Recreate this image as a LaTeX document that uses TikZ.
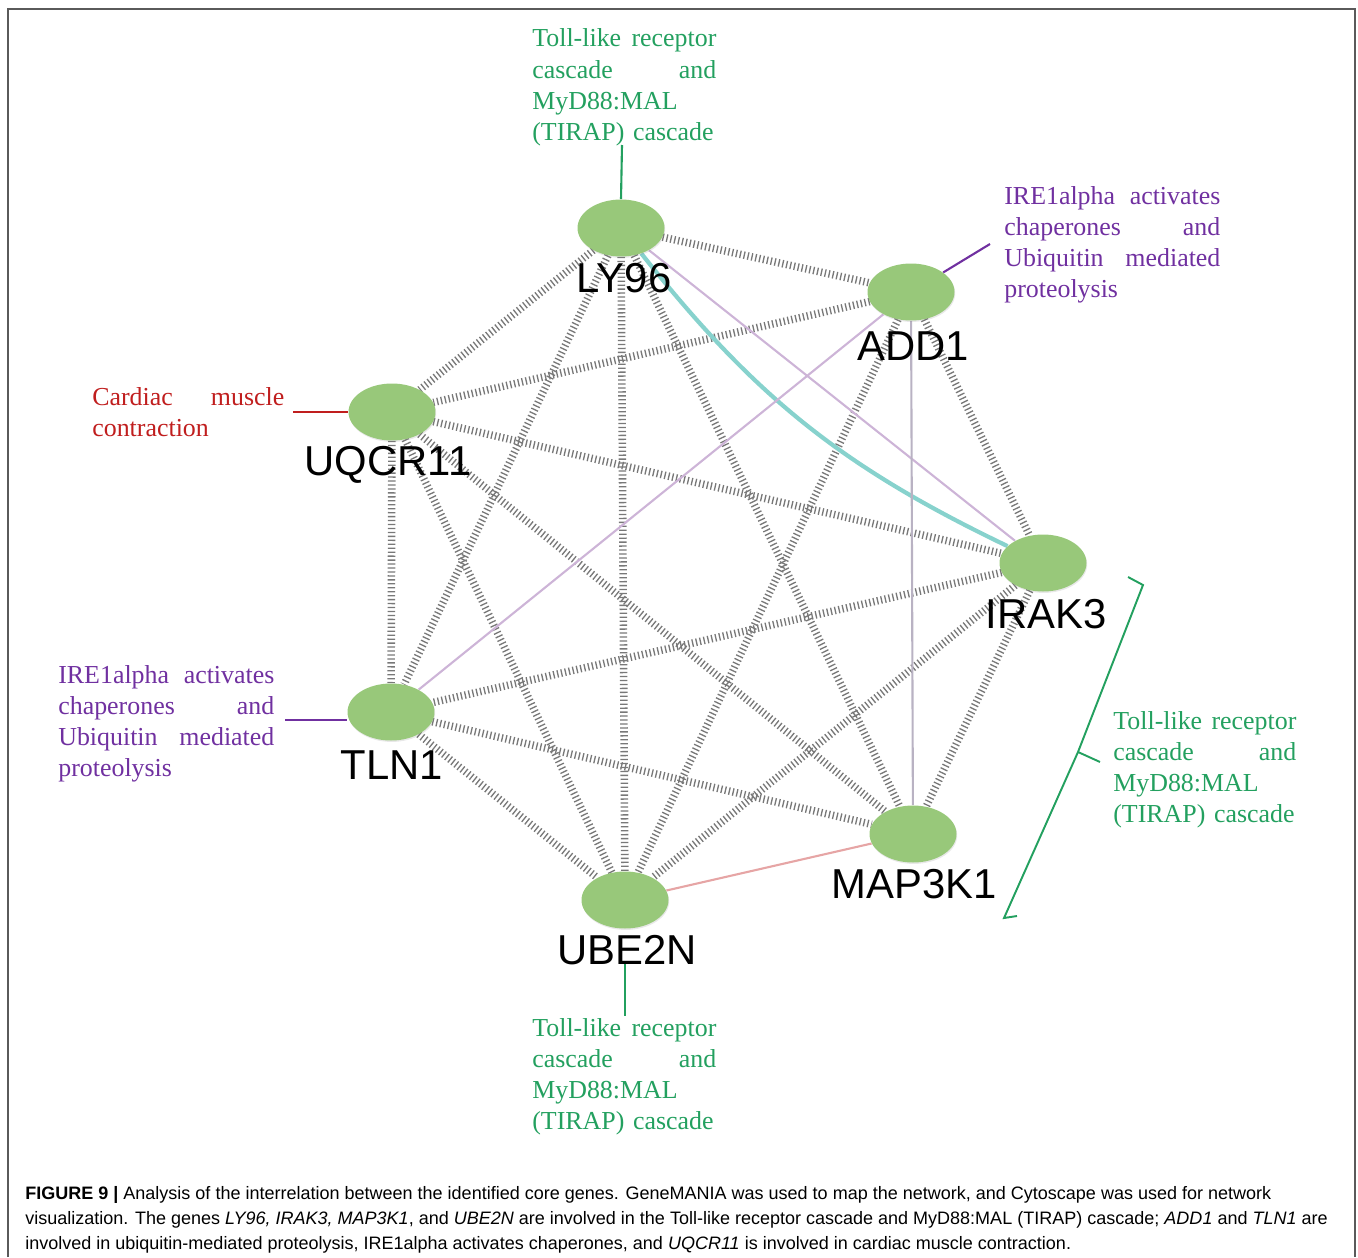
\documentclass[tikz,border=0pt]{standalone}
\usepackage{fontspec}
\setmainfont{Liberation Serif}
\setsansfont{Liberation Sans}
\usetikzlibrary{positioning, shapes.geometric, backgrounds, shadows}
\definecolor{genegreen}{RGB}{152,200,122}
\definecolor{annogreen}{RGB}{35,160,95}
\definecolor{annopurple}{RGB}{112,48,160}
\definecolor{annored}{RGB}{192,30,30}
\definecolor{hatchgray}{RGB}{120,120,120}
\definecolor{tealline}{RGB}{135,210,205}
\definecolor{lilacline}{RGB}{205,180,215}
\definecolor{greyline}{RGB}{185,178,195}
\definecolor{pinkline}{RGB}{230,165,165}
\definecolor{framegray}{RGB}{90,90,90}
\newcommand{\jsp}{\hskip 0pt plus 1filll\relax}

\begin{document}
\begin{tikzpicture}[x=0.02cm, y=-0.02cm,
    gene/.style={ellipse, fill=genegreen, minimum width=1.74cm, minimum height=1.14cm, inner sep=0pt,
      drop shadow={opacity=0.18, shadow xshift=0.4pt, shadow yshift=-0.8pt}},
    genelabel/.style={inner sep=0pt, font=\sffamily\fontsize{23.8}{28}\selectfont},
    anno/.style={anchor=base west, inner sep=0pt, align=left, font=\fontsize{14.74}{17.7}\selectfont},
    capline/.style={anchor=base west, inner sep=0pt, font=\sffamily\fontsize{10.25}{14}\selectfont},
    hatch/.style={hatchgray, line width=4.3pt, dash pattern=on 0.75pt off 1.5pt},
    thinedge/.style={line width=1.2pt}]
  \useasboundingbox (0,0) rectangle (1358,1257);
  \draw[framegray, line width=1.1pt] (8,1257) -- (8,9) -- (1355,9) -- (1355,1257);

  % genes
  \node[gene] (LY96) at (621,228) {};
  \node[gene] (ADD1) at (911,292) {};
  \node[gene] (UQCR11) at (392,412) {};
  \node[gene] (IRAK3) at (1043,563) {};
  \node[gene] (TLN1) at (391,712) {};
  \node[gene] (MAP3K1) at (913,834) {};
  \node[gene] (UBE2N) at (625,900) {};

  \node[genelabel] (LY96t) at (624,278) {LY96};
  \node[genelabel] (ADD1t) at (913,346) {ADD1};
  \node[genelabel] (UQCR11t) at (388,465) {UQCR11};
  \node[genelabel] (IRAK3t) at (1046,614) {IRAK3};
  \node[genelabel] (TLN1t) at (392,765) {TLN1};
  \node[genelabel] (MAP3K1t) at (914,884) {MAP3K1};
  \node[genelabel] (UBE2Nt) at (627,950) {UBE2N};

  % interactions
  \begin{scope}[on background layer]
    \draw[hatch] (LY96) -- (ADD1);
    \draw[hatch] (LY96) -- (UQCR11);
    \draw[hatch] (LY96) -- (TLN1);
    \draw[hatch] (LY96) -- (UBE2N);
    \draw[hatch] (LY96) -- (MAP3K1);
    \draw[hatch] (ADD1) -- (UQCR11);
    \draw[hatch] (ADD1) -- (UBE2N);
    \draw[hatch] (ADD1) -- (IRAK3);
    \draw[hatch] (UQCR11) -- (IRAK3);
    \draw[hatch] (UQCR11) -- (TLN1);
    \draw[hatch] (UQCR11) -- (UBE2N);
    \draw[hatch] (UQCR11) -- (MAP3K1);
    \draw[hatch] (IRAK3) -- (TLN1);
    \draw[hatch] (IRAK3) -- (UBE2N);
    \draw[hatch] (IRAK3) -- (MAP3K1);
    \draw[hatch] (TLN1) -- (UBE2N);
    \draw[hatch] (TLN1) -- (MAP3K1);
    \draw[thinedge, lilacline] (LY96) -- (IRAK3);
    \draw[tealline, line width=2.4pt] (LY96) to[bend right=13] (IRAK3);
    \draw[thinedge, lilacline] (ADD1) -- (TLN1);
    \draw[thinedge, greyline] (ADD1) -- (MAP3K1);
    \draw[thinedge, pinkline] (UBE2N) -- (MAP3K1);
  \end{scope}

  % pathway notes
  \node[anno, annogreen, text width=184*0.02cm] (annTop) at (532,47)
    {Toll-like\jsp receptor\\ cascade\jsp and\\ MyD88:MAL\\ (TIRAP) cascade};
  \node[anno, annopurple, text width=216*0.02cm] (annAdd) at (1004,204)
    {IRE1alpha\jsp activates\\ chaperones\jsp and\\ Ubiquitin\jsp mediated\\ proteolysis};
  \node[anno, annored, text width=192*0.02cm] (annUqc) at (92,405)
    {Cardiac\jsp muscle\\ contraction};
  \node[anno, annopurple, text width=216*0.02cm] (annTln) at (58,683)
    {IRE1alpha\jsp activates\\ chaperones\jsp and\\ Ubiquitin\jsp mediated\\ proteolysis};
  \node[anno, annogreen, text width=183*0.02cm] (annRight) at (1113,729)
    {Toll-like\jsp receptor\\ cascade\jsp and\\ MyD88:MAL\\ (TIRAP) cascade};
  \node[anno, annogreen, text width=184*0.02cm] (annBot) at (532,1036)
    {Toll-like\jsp receptor\\ cascade\jsp and\\ MyD88:MAL\\ (TIRAP) cascade};

  \coordinate (pTop) at (622,145);
  \coordinate (pAdd) at (990,244);
  \coordinate (pUqc) at (293,412);
  \coordinate (pTln) at (285,720);
  \coordinate (pBotA) at (625,964);
  \coordinate (pBotB) at (625,1016);
  \draw[annogreen, line width=1.2pt] (pTop) -- (LY96.north);
  \draw[annopurple, line width=1.2pt] (pAdd) -- (ADD1);
  \draw[annored, line width=1.2pt] (pUqc) -- (UQCR11.west);
  \draw[annopurple, line width=1.2pt] (pTln) -- (TLN1.west |- pTln);
  \draw[annogreen, line width=1.2pt] (pBotA) -- (pBotB);

  % bracket
  \coordinate (b1) at (1128,577);
  \coordinate (b2) at (1143,585);
  \coordinate (b3) at (1078,752);
  \coordinate (b4) at (1100,762);
  \coordinate (b5) at (1004,918);
  \coordinate (b6) at (1017,916);
  \draw[annogreen, line width=1.1pt] (b1) -- (b2) -- (b3) -- (b5) -- (b6);
  \draw[annogreen, line width=1.1pt] (b3) -- (b4);

  % caption
  \node[capline] (cap1) at (25,1199) {\textbf{FIGURE 9 |} Analysis of the interrelation between the identified core genes. GeneMANIA was used to map the network, and Cytoscape was used for network};
  \node[capline] (cap2) at (25,1224) {visualization. The genes \textit{LY96, IRAK3, MAP3K1}, and \textit{UBE2N} are involved in the Toll-like receptor cascade and MyD88:MAL (TIRAP) cascade; \textit{ADD1} and \textit{TLN1} are};
  \node[capline] (cap3) at (25,1249) {involved in ubiquitin-mediated proteolysis, IRE1alpha activates chaperones, and \textit{UQCR11} is involved in cardiac muscle contraction.};
\end{tikzpicture}
\end{document}
